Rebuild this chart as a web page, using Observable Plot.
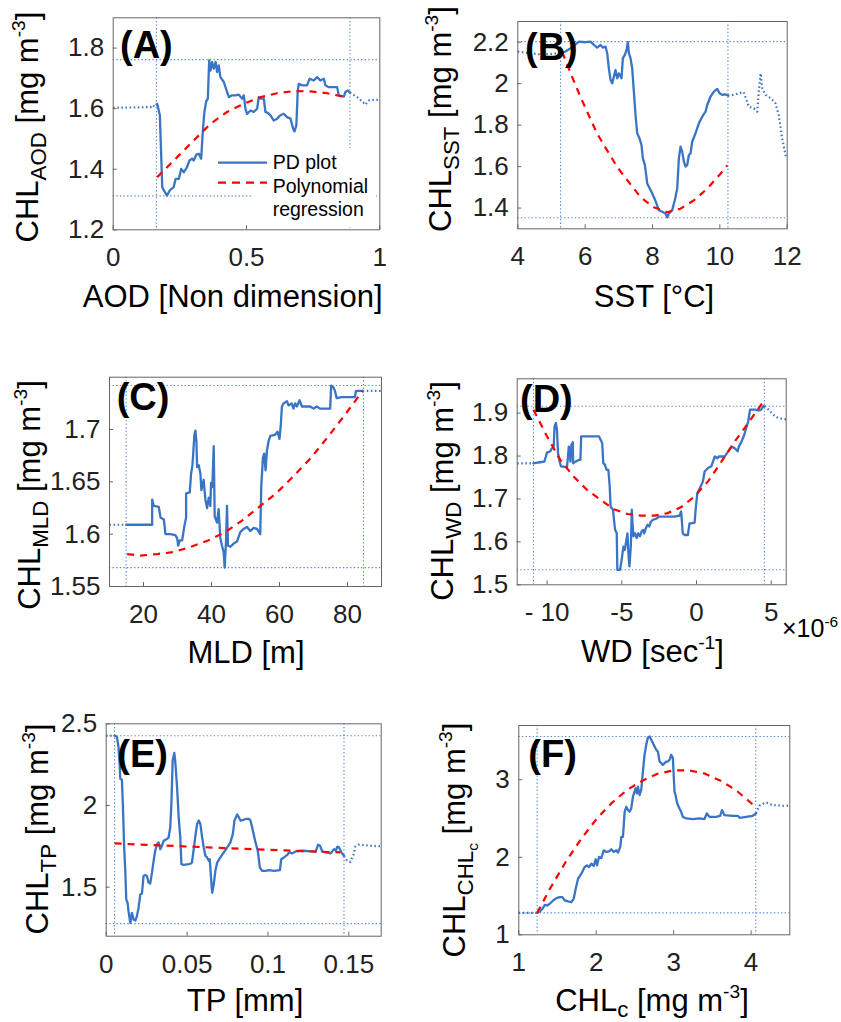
<!DOCTYPE html>
<html><head><meta charset="utf-8">
<script src="https://cdn.jsdelivr.net/npm/d3@7"></script>
<script src="https://cdn.jsdelivr.net/npm/@observablehq/plot@0.6"></script>
<style>
body{margin:0;background:#fff;}
#fig{position:relative;width:841px;height:1022px;background:#fff;font-family:"Liberation Sans",Arial,sans-serif;overflow:hidden;}
#fig svg{position:absolute;overflow:visible;}
</style></head><body><div id="fig"></div>
<script>
// ---------- Panel A: AOD ----------
const headA = [[0,1.603],[0.14,1.605],[0.148,1.612],[0.155,1.606],[0.165,1.616]];
const pdA = [[0.165,1.616],[0.175,1.578],[0.180,1.445],[0.184,1.341],[0.190,1.330],[0.202,1.313],[0.212,1.330],[0.227,1.341],[0.234,1.368],[0.246,1.368],[0.255,1.401],[0.265,1.390],[0.277,1.407],[0.286,1.429],[0.296,1.435],[0.302,1.429],[0.312,1.448],[0.321,1.451],[0.330,1.435],[0.336,1.523],[0.342,1.589],[0.349,1.624],[0.355,1.633],[0.360,1.759],[0.365,1.726],[0.371,1.754],[0.377,1.732],[0.384,1.754],[0.390,1.721],[0.396,1.743],[0.402,1.704],[0.415,1.688],[0.427,1.655],[0.434,1.638],[0.446,1.644],[0.459,1.644],[0.471,1.646],[0.484,1.633],[0.490,1.644],[0.496,1.600],[0.502,1.583],[0.515,1.594],[0.527,1.589],[0.540,1.600],[0.546,1.638],[0.553,1.633],[0.565,1.633],[0.571,1.589],[0.580,1.586],[0.590,1.578],[0.602,1.561],[0.615,1.567],[0.627,1.578],[0.640,1.583],[0.652,1.572],[0.665,1.567],[0.675,1.534],[0.680,1.525],[0.687,1.545],[0.692,1.655],[0.696,1.682],[0.709,1.677],[0.727,1.677],[0.737,1.699],[0.752,1.693],[0.765,1.704],[0.777,1.693],[0.790,1.699],[0.796,1.677],[0.809,1.671],[0.840,1.671],[0.846,1.644],[0.865,1.640],[0.871,1.655],[0.880,1.660],[0.888,1.653]];
const tailA = [[0.888,1.653],[0.915,1.638],[0.934,1.624],[0.946,1.613],[0.959,1.627],[0.978,1.629],[1.0,1.629]];
const fitA = [[0.165,1.374],[0.240,1.440],[0.302,1.495],[0.365,1.550],[0.427,1.589],[0.490,1.616],[0.553,1.638],[0.615,1.651],[0.677,1.658],[0.740,1.657],[0.802,1.651],[0.871,1.638]];
const vrefA = [0.162, 0.888];
const hrefA = [1.762, 1.312];
const xTicksA = [0, 0.5, 1];
const yTicksA = [1.2, 1.4, 1.6, 1.8];
const legendA = ["PD plot", "Polynomial", "regression"];

// ---------- Panel B: SST ----------
const headB = [[4,2.155],[4.2,2.150],[4.4,2.147],[4.6,2.142],[4.8,2.142],[5.0,2.144],[5.15,2.147],[5.27,2.150]];
const pdB = [[5.27,2.150],[5.417,2.155],[5.566,2.171],[5.714,2.190],[5.813,2.203],[6.011,2.200],[6.16,2.203],[6.26,2.187],[6.358,2.174],[6.457,2.187],[6.526,2.174],[6.605,2.179],[6.655,2.147],[6.704,2.074],[6.754,2.018],[6.803,2.002],[6.853,2.034],[6.902,2.066],[6.952,2.026],[7.001,2.050],[7.08,2.026],[7.12,2.123],[7.179,2.139],[7.229,2.163],[7.268,2.200],[7.298,2.147],[7.348,2.123],[7.397,2.074],[7.447,1.962],[7.496,1.849],[7.546,1.761],[7.615,1.736],[7.674,1.704],[7.714,1.640],[7.773,1.608],[7.813,1.559],[7.843,1.519],[7.892,1.503],[7.991,1.471],[8.09,1.434],[8.189,1.390],[8.288,1.382],[8.387,1.374],[8.437,1.355],[8.486,1.374],[8.585,1.390],[8.664,1.439],[8.734,1.495],[8.783,1.640],[8.833,1.696],[8.882,1.672],[8.932,1.624],[8.981,1.600],[9.031,1.608],[9.08,1.656],[9.13,1.664],[9.179,1.720],[9.278,1.761],[9.377,1.809],[9.476,1.841],[9.575,1.865],[9.625,1.897],[9.724,1.938],[9.823,1.962],[9.922,1.975],[9.991,1.954],[10.07,1.946],[10.15,1.949],[10.24,1.943]];
const tailB = [[10.24,1.943],[10.42,1.946],[10.565,1.954],[10.71,1.959],[10.86,1.889],[11.01,1.881],[11.11,1.865],[11.16,1.970],[11.21,2.050],[11.26,1.978],[11.36,1.946],[11.51,1.930],[11.65,1.906],[11.75,1.849],[11.85,1.736],[11.95,1.656],[12,1.640]];
const fitB = [[5.318,2.153],[5.615,2.032],[5.862,1.936],[6.108,1.847],[6.357,1.759],[6.655,1.678],[6.952,1.598],[7.296,1.525],[7.644,1.453],[8.039,1.404],[8.437,1.380],[8.832,1.397],[9.226,1.437],[9.624,1.493],[10.02,1.566],[10.22,1.606]];
const vrefB = [5.27, 10.24];
const hrefB = [2.203, 1.353];
const xTicksB = [4, 6, 8, 10, 12];
const yTicksB = [1.4, 1.6, 1.8, 2, 2.2];

// ---------- Panel C: MLD ----------
const headC = [[10,1.609],[14.92,1.609]];
const pdC = [[14.92,1.609],[22.55,1.609],[22.55,1.633],[23.04,1.627],[24.5,1.626],[25.0,1.616],[25.98,1.614],[26.47,1.600],[27.93,1.600],[29.4,1.599],[29.9,1.596],[30.2,1.589],[30.67,1.594],[31.36,1.594],[32.04,1.608],[32.53,1.616],[32.53,1.639],[33.6,1.640],[34.0,1.658],[34.4,1.666],[34.97,1.695],[35.27,1.699],[35.56,1.689],[35.76,1.664],[36.25,1.666],[36.73,1.658],[37.03,1.642],[37.7,1.652],[38.2,1.633],[38.7,1.625],[39.2,1.635],[39.67,1.627],[39.86,1.649],[40.25,1.645],[40.65,1.684],[40.94,1.617],[41.62,1.611],[42.1,1.624],[42.6,1.596],[43.09,1.589],[43.58,1.583],[43.87,1.568],[44.26,1.593],[44.56,1.627],[44.85,1.589],[45.54,1.588],[46.51,1.591],[47.5,1.593],[48.47,1.602],[49.45,1.605],[50.4,1.607],[51.4,1.603],[52.4,1.606],[53.4,1.605],[54.34,1.600],[54.63,1.645],[55.12,1.673],[55.5,1.677],[55.9,1.661],[56.3,1.680],[56.8,1.689],[57.3,1.694],[58.7,1.695],[59.4,1.698],[60.0,1.691],[60.4,1.705],[60.7,1.722],[61.2,1.725],[62.2,1.727],[62.65,1.723],[63.6,1.725],[64.1,1.720],[64.6,1.725],[65.1,1.722],[65.9,1.728],[66.6,1.722],[69.0,1.722],[70.0,1.720],[70.96,1.722],[71.9,1.720],[74.9,1.720],[75.2,1.742],[75.9,1.740],[76.3,1.737],[76.8,1.730],[78.3,1.731],[82.2,1.731],[82.5,1.737],[83.7,1.737],[84.46,1.737]];
const tailC = [[84.46,1.737],[90,1.737]];
const fitC = [[15.2,1.581],[19,1.5795],[24,1.581],[29,1.583],[34,1.588],[39,1.594],[44,1.602],[49,1.613],[54,1.626],[59,1.639],[64,1.655],[69,1.672],[74,1.692],[79,1.713],[84.5,1.737]];
const vrefC = [14.9, 84.7];
const hrefC = [1.742, 1.568];
const xTicksC = [20, 40, 60, 80];
const yTicksC = [1.55, 1.6, 1.65, 1.7];

// ---------- Panel D: WD (x 1e-6) ----------
const headD = [[-12,1.783],[-10.91,1.783]];
const pdD = [[-10.91,1.783],[-10.58,1.785],[-10.19,1.787],[-10.08,1.799],[-10.01,1.808],[-9.79,1.811],[-9.68,1.818],[-9.56,1.821],[-9.5,1.869],[-9.41,1.877],[-9.34,1.861],[-9.27,1.807],[-9.16,1.787],[-9.07,1.776],[-8.67,1.774],[-8.6,1.799],[-8.55,1.822],[-8.49,1.818],[-8.44,1.787],[-8.37,1.826],[-8.28,1.832],[-8.26,1.783],[-8.1,1.787],[-7.88,1.791],[-7.77,1.791],[-7.72,1.846],[-7.43,1.846],[-6.53,1.846],[-6.42,1.838],[-6.31,1.830],[-6.24,1.783],[-6.13,1.780],[-6.02,1.768],[-5.9,1.768],[-5.81,1.729],[-5.75,1.682],[-5.68,1.679],[-5.59,1.675],[-5.52,1.651],[-5.45,1.628],[-5.34,1.620],[-5.3,1.535],[-5.12,1.535],[-5.03,1.554],[-4.89,1.589],[-4.8,1.581],[-4.69,1.605],[-4.62,1.620],[-4.56,1.574],[-4.49,1.543],[-4.4,1.589],[-4.33,1.675],[-4.29,1.647],[-4.22,1.613],[-4.11,1.620],[-4.0,1.609],[-3.9,1.620],[-3.79,1.613],[-3.68,1.624],[-3.57,1.628],[-3.5,1.620],[-3.39,1.632],[-3.28,1.640],[-3.16,1.636],[-3.05,1.647],[-2.94,1.651],[-2.71,1.654],[-2.49,1.659],[-1.93,1.659],[-1.48,1.659],[-1.14,1.661],[-1.03,1.671],[-0.92,1.620],[-0.8,1.616],[-0.58,1.616],[-0.47,1.643],[-0.36,1.643],[-0.13,1.645],[-0.06,1.675],[0.05,1.713],[0.16,1.721],[0.27,1.729],[0.43,1.741],[0.54,1.764],[0.66,1.768],[0.77,1.772],[0.99,1.776],[1.1,1.787],[1.22,1.799],[1.4,1.795],[1.49,1.799],[1.89,1.799],[2.12,1.811],[2.34,1.822],[2.56,1.818],[2.75,1.811],[2.83,1.822],[3.01,1.834],[3.19,1.849],[3.35,1.869],[3.46,1.881],[3.58,1.908],[3.91,1.908],[4.18,1.906],[4.32,1.908],[4.47,1.916],[4.54,1.916]];
const tailD = [[4.54,1.916],[4.81,1.908],[5.15,1.896],[5.49,1.888],[5.93,1.886],[6.0,1.886]];
const fitD = [[-10.91,1.908],[-10.01,1.846],[-9.12,1.791],[-8.22,1.752],[-7.32,1.721],[-6.42,1.698],[-5.52,1.676],[-4.62,1.665],[-3.73,1.661],[-2.83,1.661],[-1.93,1.667],[-1.03,1.681],[-0.13,1.706],[0.77,1.741],[1.67,1.787],[2.56,1.834],[3.46,1.877],[4.47,1.927]];
const vrefD = [-10.91, 4.54];
const hrefD = [1.916, 1.535];
const xTicksD = [-10, -5, 0, 5];
const xTickLabelsD = ["- 10", "-5", "0", "5"];
const yTicksD = [1.5, 1.6, 1.7, 1.8, 1.9];

// ---------- Panel E: TP ----------
const headE = [[0,2.427],[0.0052,2.427]];
const pdE = [[0.0052,2.427],[0.0066,2.421],[0.0076,2.359],[0.0083,2.257],[0.0087,2.164],[0.0097,2.158],[0.0103,2.010],[0.0111,1.743],[0.0118,1.600],[0.0124,1.425],[0.0132,1.405],[0.0138,1.353],[0.0149,1.282],[0.0159,1.343],[0.0169,1.302],[0.018,1.296],[0.019,1.323],[0.0200,1.374],[0.0211,1.456],[0.0221,1.460],[0.0231,1.569],[0.0241,1.575],[0.0252,1.569],[0.0262,1.528],[0.0272,1.522],[0.0283,1.589],[0.0293,1.661],[0.0303,1.723],[0.0314,1.764],[0.0324,1.774],[0.0334,1.733],[0.0345,1.754],[0.0355,1.784],[0.0376,1.795],[0.0386,1.805],[0.0396,1.867],[0.0403,2.010],[0.0411,2.277],[0.0421,2.322],[0.0427,2.267],[0.0438,2.113],[0.0448,1.928],[0.0458,1.805],[0.0465,1.641],[0.0479,1.637],[0.051,1.641],[0.0524,1.645],[0.053,1.651],[0.0537,1.702],[0.0545,1.764],[0.0553,1.826],[0.0562,1.887],[0.0572,1.908],[0.0582,1.887],[0.0593,1.805],[0.0603,1.743],[0.0613,1.692],[0.0624,1.682],[0.0634,1.661],[0.064,1.671],[0.0648,1.559],[0.0655,1.466],[0.0665,1.518],[0.0675,1.600],[0.0686,1.651],[0.0706,1.682],[0.0727,1.713],[0.0748,1.743],[0.0768,1.774],[0.0783,1.826],[0.0793,1.908],[0.081,1.945],[0.0820,1.928],[0.0830,1.908],[0.0851,1.912],[0.0861,1.918],[0.0882,1.918],[0.0892,1.908],[0.0902,1.867],[0.0923,1.774],[0.0937,1.723],[0.0950,1.620],[0.0964,1.600],[0.0985,1.600],[0.1006,1.604],[0.1037,1.600],[0.1074,1.604],[0.1082,1.671],[0.1099,1.682],[0.112,1.698],[0.113,1.713],[0.115,1.707],[0.117,1.719],[0.122,1.723],[0.1264,1.719],[0.1295,1.717],[0.131,1.760],[0.1322,1.754],[0.1336,1.717],[0.1357,1.713],[0.1388,1.707],[0.1408,1.733],[0.1419,1.723],[0.1429,1.748],[0.1439,1.744],[0.1454,1.713],[0.147,1.692]];
const tailE = [[0.147,1.692],[0.149,1.661],[0.151,1.655],[0.153,1.702],[0.154,1.748],[0.156,1.760],[0.163,1.754],[0.17,1.750]];
const fitE = [[0.0052,1.768],[0.03,1.757],[0.06,1.745],[0.09,1.733],[0.12,1.722],[0.1447,1.713]];
const vrefE = [0.0052, 0.147];
const hrefE = [2.427, 1.277];
const xTicksE = [0, 0.05, 0.1, 0.15];
const yTicksE = [1.5, 2, 2.5];

// ---------- Panel F: CHLc ----------
const headF = [[1,1.283],[1.237,1.283]];
const pdF = [[1.237,1.283],[1.271,1.300],[1.305,1.334],[1.336,1.386],[1.366,1.378],[1.4,1.4],[1.443,1.443],[1.486,1.473],[1.529,1.486],[1.563,1.486],[1.593,1.443],[1.636,1.430],[1.679,1.421],[1.709,1.464],[1.735,1.594],[1.765,1.723],[1.808,1.788],[1.851,1.874],[1.881,1.896],[1.907,1.874],[1.937,1.918],[1.967,1.887],[1.993,1.974],[2.010,1.896],[2.036,2.004],[2.066,1.991],[2.096,2.090],[2.13,2.069],[2.165,2.077],[2.195,2.103],[2.225,2.069],[2.259,2.090],[2.281,2.060],[2.311,2.134],[2.324,2.263],[2.345,2.263],[2.367,2.587],[2.388,2.652],[2.41,2.609],[2.431,2.587],[2.452,2.630],[2.474,2.782],[2.495,2.846],[2.508,2.890],[2.526,2.825],[2.539,2.911],[2.56,2.803],[2.581,2.868],[2.603,3.106],[2.624,3.322],[2.646,3.451],[2.667,3.546],[2.689,3.559],[2.71,3.516],[2.732,3.473],[2.753,3.430],[2.775,3.386],[2.796,3.365],[2.818,3.235],[2.839,3.214],[2.861,3.192],[2.882,3.214],[2.904,3.235],[2.925,3.235],[2.947,3.257],[2.968,3.322],[2.99,3.279],[2.998,3.106],[3.011,2.846],[3.024,2.803],[3.041,2.717],[3.054,2.674],[3.075,2.630],[3.097,2.587],[3.118,2.522],[3.161,2.501],[3.247,2.492],[3.333,2.501],[3.398,2.492],[3.428,2.566],[3.462,2.522],[3.548,2.522],[3.6,2.535],[3.625,2.609],[3.655,2.544],[3.763,2.535],[3.827,2.535],[3.857,2.509],[3.935,2.522],[4.02,2.535],[4.064,2.566]];
const tailF = [[4.064,2.566],[4.106,2.665],[4.192,2.708],[4.278,2.674],[4.407,2.665],[4.5,2.665]];
const fitF = [[1.237,1.283],[1.4,1.59],[1.6,1.93],[1.8,2.23],[2.0,2.49],[2.2,2.70],[2.4,2.87],[2.6,2.99],[2.8,3.08],[3.0,3.12],[3.2,3.12],[3.4,3.08],[3.6,2.99],[3.8,2.87],[4.0,2.70],[4.06,2.63]];
const vrefF = [1.237, 4.06];
const hrefF = [3.559, 1.283];
const xTicksF = [1, 2, 3, 4];
const yTicksF = [1, 2, 3];

// ---------- drawing ----------
const BLUE = "#3a75c5", REF = "#4f84d6", RED = "#ff0000";
const FONT = "'Liberation Sans', Arial, Helvetica, sans-serif";
const fig = document.getElementById("fig");

function rich(svg, {x, y, rotate = 0, size, parts, anchor = "middle", weight = "normal", subShift = 0.27}) {
  const t = d3.select(svg).append("text")
    .attr("transform", `translate(${x},${y}) rotate(${rotate})`)
    .attr("text-anchor", anchor).attr("font-size", size)
    .attr("font-family", FONT).attr("font-weight", weight).attr("fill", "#000");
  let shift = 0;
  for (const p of parts) {
    let fs = size, target = 0;
    if (p.sub) { fs = size * 0.72; target = size * subShift; }
    if (p.sub2) { fs = size * 0.5; target = size * (subShift + 0.15); }
    if (p.sup) { fs = size * 0.62; target = -size * 0.42; }
    t.append("tspan").text(p.t).attr("font-size", fs).attr("dy", target - shift);
    shift = target;
  }
  return t;
}

function panel(c) {
  const [mt, mr, mb, ml] = c.margin;
  const svg = Plot.plot({
    width: c.w, height: c.h,
    marginTop: mt, marginRight: mr, marginBottom: mb, marginLeft: ml,
    x: {domain: c.xd}, y: {domain: c.yd},
    style: {fontFamily: FONT, fontSize: "26px", color: "#222", background: "transparent", overflow: "visible"},
    marks: [
      Plot.ruleX(c.vref, {stroke: REF, strokeWidth: 1.1, strokeDasharray: "1.3,2.3"}),
      Plot.ruleY(c.href, {stroke: REF, strokeWidth: 1.1, strokeDasharray: "1.3,2.3"}),
      Plot.line(c.head, {x: d => d[0], y: d => d[1], stroke: BLUE, strokeWidth: 2.2, strokeDasharray: "1.5,2.6", strokeLinecap: "butt"}),
      Plot.line(c.tail, {x: d => d[0], y: d => d[1], stroke: BLUE, strokeWidth: 2.2, strokeDasharray: "1.5,2.6", strokeLinecap: "butt"}),
      Plot.line(c.pd, {x: d => d[0], y: d => d[1], stroke: BLUE, strokeWidth: 2.3}),
      Plot.line(c.fit, {x: d => d[0], y: d => d[1], stroke: RED, strokeWidth: 2.2, strokeDasharray: "7,6", strokeLinecap: "butt"}),
      Plot.frame({stroke: "#666", strokeWidth: 1}),
      Plot.axisX({ticks: c.xt, tickFormat: c.xf || (d => String(d)), tickSize: -4, tickPadding: 22, label: null, fontSize: 26, stroke: "#666"}),
      Plot.axisY({ticks: c.yt, tickFormat: d => String(d), tickSize: -4, tickPadding: 13, label: null, fontSize: 26, stroke: "#666"})
    ]
  });
  svg.style.left = c.left + "px";
  svg.style.top = c.top + "px";
  fig.appendChild(svg);
  rich(svg, {x: c.yl[0], y: c.yl[1], rotate: -90, size: 31, parts: c.ylabel});
  rich(svg, {x: c.xl[0], y: c.xl[1], size: 31, parts: c.xlabel, subShift: c.xSub || 0.27});
  rich(svg, {x: c.tl[0], y: c.tl[1], size: 38, parts: [{t: c.title}], anchor: "start", weight: "bold"});
  return svg;
}

const unitParts = [{t: " [mg m"}, {t: "-3", sup: true}, {t: "]"}];

const svgA = panel({left: 0, top: 0, w: 420, h: 330, margin: [17.3, 40.7, 100.7, 112.7],
  xd: [0, 1], yd: [1.2, 1.9], xt: xTicksA, yt: yTicksA,
  head: headA, pd: pdA, tail: tailA, fit: fitA, vref: vrefA, href: hrefA,
  yl: [38, 127], xl: [232.7, 307], tl: [120, 58], title: "(A)",
  ylabel: [{t: "CHL"}, {t: "AOD", sub: true}, ...unitParts],
  xlabel: [{t: "AOD [Non dimension]"}]});

// legend of panel A
{
  const g = d3.select(svgA).append("g");
  g.append("rect").attr("x", 252).attr("y", 148).attr("width", 124).attr("height", 79).attr("fill", "#fff");
  g.append("line").attr("x1", 218).attr("x2", 267).attr("y1", 162.7).attr("y2", 162.7).attr("stroke", BLUE).attr("stroke-width", 2.3);
  g.append("line").attr("x1", 218).attr("x2", 267).attr("y1", 182.7).attr("y2", 182.7).attr("stroke", RED).attr("stroke-width", 2.2).attr("stroke-dasharray", "8,6");
  const ys = [169, 192.7, 216];
  legendA.forEach((s, i) => g.append("text").attr("x", 272.7).attr("y", ys[i]).attr("text-anchor", "start")
    .attr("font-family", FONT).attr("font-size", 19.5).attr("fill", "#000").text(s));
}

panel({left: 420, top: 0, w: 421, h: 330, margin: [21, 54.3, 101.7, 97.3],
  xd: [4, 12], yd: [1.3, 2.3], xt: xTicksB, yt: yTicksB,
  head: headB, pd: pdB, tail: tailB, fit: fitB, vref: vrefB, href: hrefB,
  yl: [31, 119], xl: [234, 307], tl: [105, 60], title: "(B)",
  ylabel: [{t: "CHL"}, {t: "SST", sub: true}, ...unitParts],
  xlabel: [{t: "SST [°C]"}]});

panel({left: 0, top: 330, w: 420, h: 340, margin: [46.7, 39, 84, 109],
  xd: [10, 90], yd: [1.55, 1.75], xt: xTicksC, yt: yTicksC,
  head: headC, pd: pdC, tail: tailC, fit: fitC, vref: vrefC, href: hrefC,
  yl: [40, 165], xl: [246, 333], tl: [116.7, 80], title: "(C)",
  ylabel: [{t: "CHL"}, {t: "MLD", sub: true}, ...unitParts],
  xlabel: [{t: "MLD [m]"}]});

const svgD = panel({left: 420, top: 330, w: 421, h: 340, margin: [48.3, 55.3, 85.7, 96.7],
  xd: [-12, 6], yd: [1.5, 1.98], xt: xTicksD, yt: yTicksD,
  xf: d => xTickLabelsD[xTicksD.indexOf(d)],
  head: headD, pd: pdD, tail: tailD, fit: fitD, vref: vrefD, href: hrefD,
  yl: [33, 161], xl: [232.5, 331.7], tl: [100, 81.7], title: "(D)",
  ylabel: [{t: "CHL"}, {t: "WD", sub: true}, ...unitParts],
  xlabel: [{t: "WD [sec"}, {t: "-1", sup: true}, {t: "]"}]});
rich(svgD, {x: 362, y: 307, size: 25, anchor: "start", parts: [{t: "×10"}, {t: "-6", sup: true}]});

panel({left: 0, top: 670, w: 420, h: 352, margin: [53.3, 39.3, 86.3, 105.7],
  xd: [0, 0.17], yd: [1.2, 2.5], xt: xTicksE, yt: yTicksE,
  head: headE, pd: pdE, tail: tailE, fit: fitE, vref: vrefE, href: hrefE,
  yl: [48, 159], xl: [245, 341], tl: [117.3, 96.7], title: "(E)",
  ylabel: [{t: "CHL"}, {t: "TP", sub: true}, ...unitParts],
  xlabel: [{t: "TP [mm]"}]});

panel({left: 420, top: 670, w: 421, h: 352, margin: [55, 51.7, 87.7, 98.3],
  xd: [1, 4.5], yd: [1, 3.7], xt: xTicksF, yt: yTicksF,
  head: headF, pd: pdF, tail: tailF, fit: fitF, vref: vrefF, href: hrefF,
  yl: [45, 170], xl: [232, 341], tl: [108.3, 96.7], title: "(F)", xSub: 0.18,
  ylabel: [{t: "CHL"}, {t: "CHL", sub: true}, {t: "c", sub2: true}, ...unitParts],
  xlabel: [{t: "CHL"}, {t: "c", sub: true}, ...unitParts]});
</script></body></html>
